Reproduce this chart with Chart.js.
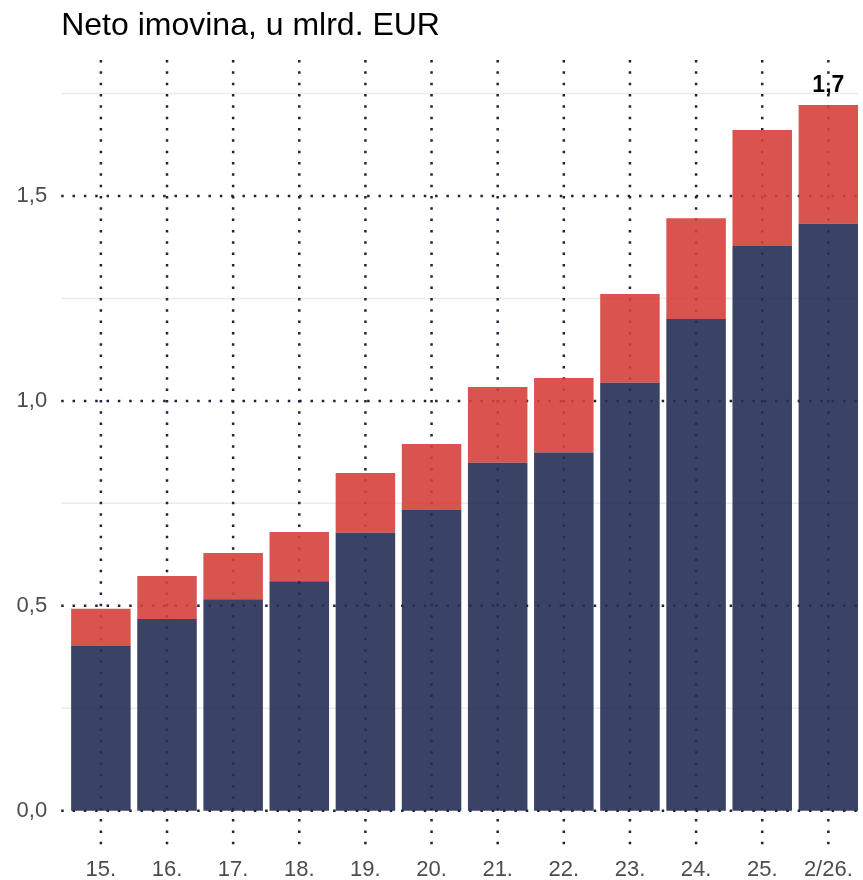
<!DOCTYPE html>
<html>
<head>
<meta charset="utf-8">
<script src="https://cdn.jsdelivr.net/npm/chart.js@4/dist/chart.umd.min.js"></script>
<style>
  html, body { margin: 0; padding: 0; background: #ffffff; }
  #wrap { width: 863px; height: 880px; position: relative; }
</style>
</head>
<body>
<div id="wrap"><canvas id="c" width="863" height="880"></canvas></div>
<script>
const TITLE = "Neto imovina, u mlrd. EUR";
const CATEGORIES = ["15.", "16.", "17.", "18.", "19.", "20.", "21.", "22.", "23.", "24.", "25.", "2/26."];
const BASE_VALUES = [0.402, 0.468, 0.516, 0.560, 0.678, 0.734, 0.849, 0.874, 1.044, 1.200, 1.378, 1.432];
const TOP_VALUES  = [0.091, 0.105, 0.113, 0.120, 0.146, 0.161, 0.185, 0.182, 0.217, 0.246, 0.283, 0.290];
const Y_MAJOR_TICKS = [0, 0.5, 1.0, 1.5];
const Y_MINOR_TICKS = [0.25, 0.75, 1.25, 1.75];
const LABELLED_INDEX = 11;

const FONT = '"Liberation Sans", Arial, sans-serif';
const fmt = v => v.toFixed(1).replace('.', ',');

const gridPlugin = {
  id: 'customGrid',
  beforeDatasetsDraw(chart) {
    const {ctx, chartArea, scales} = chart;
    const x = scales.x, y = scales.y;
    ctx.save();
    ctx.strokeStyle = '#ebebeb';
    ctx.lineWidth = 1.5;
    ctx.setLineDash([]);
    Y_MINOR_TICKS.forEach(v => {
      const py = y.getPixelForValue(v);
      ctx.beginPath(); ctx.moveTo(chartArea.left, py); ctx.lineTo(chartArea.right, py); ctx.stroke();
    });
    ctx.strokeStyle = '#1e2438';
    ctx.lineWidth = 2.5;
    ctx.setLineDash([2.5, 8.83]);
    Y_MAJOR_TICKS.forEach(v => {
      const py = y.getPixelForValue(v);
      ctx.beginPath(); ctx.moveTo(chartArea.left, py); ctx.lineTo(chartArea.right, py); ctx.stroke();
    });
    CATEGORIES.forEach((c, i) => {
      const px = x.getPixelForValue(i);
      ctx.beginPath(); ctx.moveTo(px, chartArea.top); ctx.lineTo(px, chartArea.bottom); ctx.stroke();
    });
    ctx.restore();
  },
  afterDatasetsDraw(chart) {
    const {ctx} = chart;
    const meta = chart.getDatasetMeta(1);
    const bar = meta.data[LABELLED_INDEX];
    const total = BASE_VALUES[LABELLED_INDEX] + TOP_VALUES[LABELLED_INDEX];
    ctx.save();
    ctx.font = 'bold 23px ' + FONT;
    ctx.fillStyle = '#000000';
    ctx.textAlign = 'center';
    ctx.textBaseline = 'alphabetic';
    ctx.fillText(fmt(total), bar.x, bar.y - 13);
    ctx.restore();
  }
};

new Chart(document.getElementById('c'), {
  type: 'bar',
  data: {
    datasets: [
      {
        label: 'base',
        data: BASE_VALUES.map((v, i) => ({x: i, y: v})),
        backgroundColor: 'rgba(37,46,85,0.9)',
        borderWidth: 0,
        barPercentage: 0.9,
        categoryPercentage: 1.0
      },
      {
        label: 'top',
        data: TOP_VALUES.map((v, i) => ({x: i, y: v})),
        backgroundColor: 'rgba(213,64,60,0.9)',
        borderWidth: 0,
        barPercentage: 0.9,
        categoryPercentage: 1.0
      }
    ]
  },
  plugins: [gridPlugin],
  options: {
    responsive: false,
    animation: false,
    layout: { padding: 0 },
    plugins: {
      legend: { display: false },
      tooltip: { enabled: false },
      title: {
        display: true,
        text: TITLE,
        align: 'start',
        fullSize: false,
        color: '#000000',
        font: { family: FONT, size: 32, weight: 'normal', lineHeight: 1.2 },
        padding: { top: 7, bottom: 14.6 }
      }
    },
    scales: {
      x: {
        type: 'linear',
        stacked: true,
        offset: false,
        min: -0.6,
        max: 11.45,
        grid: { display: false, drawTicks: false, offset: false },
        border: { display: false },
        afterBuildTicks: s => { s.ticks = CATEGORIES.map((c, i) => ({value: i})); },
        afterFit: s => { s.height = 33; },
        ticks: {
          autoSkip: false,
          maxRotation: 0,
          padding: 10,
          color: '#4d4d4d',
          font: { family: FONT, size: 22 },
          callback: v => CATEGORIES[v]
        }
      },
      y: {
        stacked: true,
        min: -0.0886,
        max: 1.8319,
        grid: { display: false, drawTicks: false },
        border: { display: false },
        afterBuildTicks: s => { s.ticks = Y_MAJOR_TICKS.map(v => ({value: v})); },
        afterFit: s => { s.width = 61.2; },
        ticks: {
          padding: 14,
          color: '#4d4d4d',
          font: { family: FONT, size: 22 },
          callback: v => fmt(v)
        }
      }
    }
  }
});
</script>
</body>
</html>
